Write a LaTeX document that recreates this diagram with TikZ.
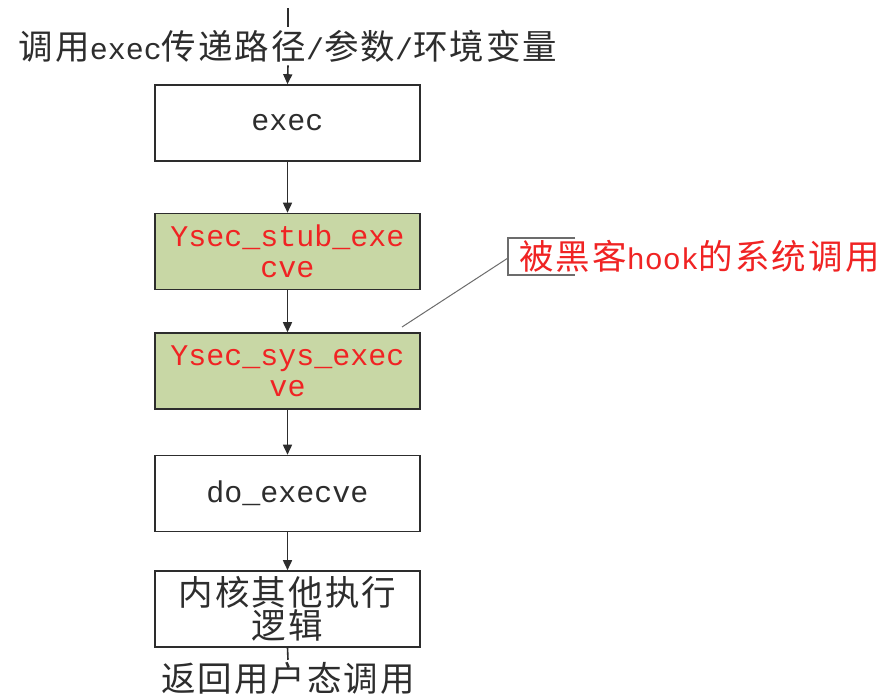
\documentclass[tikz,border=0pt]{standalone}
\usepackage{fontspec}
\setmainfont{Liberation Mono}
\newfontfamily\cjk[Scale=1.15,LetterSpace=6]{Noto Sans CJK SC}
\usetikzlibrary{arrows.meta}
\definecolor{boxgreen}{RGB}{200,215,165}
\definecolor{hookred}{RGB}{240,35,35}
\definecolor{ink}{RGB}{45,45,45}
\begin{document}
\begin{tikzpicture}[x=1pt,y=-1pt,
  flowbox/.style={draw=ink, line width=1.6pt, minimum width=265pt, minimum height=76pt, inner sep=0pt, align=center, text=ink, font=\fontsize{30}{31}\selectfont},
  hookbox/.style={flowbox, fill=boxgreen, text=hookred},
  flow/.style={draw=ink, line width=1.6pt, -{Triangle[length=10pt,width=9pt]}},
  plain/.style={draw=ink, line width=1.6pt},
  lbl/.style={text=ink, font=\fontsize{30}{31}\selectfont, inner sep=3pt}]
\path[use as bounding box] (0,0) rectangle (893,697);
\fill[white] (0,0) rectangle (893,697);

\coordinate (top) at (288,8);
\node[lbl] (title) at (288,46) {{\cjk 调用}exec{\cjk 传递路径}/{\cjk 参数}/{\cjk 环境变量}};
\node[flowbox] (exec) at (287.5,123) {exec};
\node[hookbox] (stub) at (287.5,251.5) {Ysec\_stub\_exe\\cve};
\node[hookbox] (sys) at (287.5,371) {Ysec\_sys\_exec\\ve};
\node[flowbox] (do) at (287.5,493.5) {do\_execve};
\node[flowbox] (kern) at (287.5,609) {{\cjk 内核其他执行}\\{\cjk 逻辑}};
\node[lbl, inner sep=2pt] (ret) at (288,678) {\cjk 返回用户态调用};

\draw[plain] (top) -- (title.north);
\draw[flow] (title.south) -- (exec.north);
\draw[flow] (exec.south) -- (stub.north);
\draw[flow] (stub.south) -- (sys.north);
\draw[flow] (sys.south) -- (do.north);
\draw[flow] (do.south) -- (kern.north);
\draw[plain] (kern.south) -- (ret.north);

% callout
\node[anchor=west, inner sep=0pt, text=hookred, font=\fontsize{30}{31}\selectfont] (hook) at (519,256) {{\cjk 被黑客}hook{\cjk 的系统调用}};
\coordinate (cbt) at (575,238);
\coordinate (cbb) at (575,275);
\coordinate (cl) at (508,258);
\coordinate (lt) at (402,327);
\draw[draw=ink!70, line width=1.6pt] (cbt) -| (cl) |- (cbb);
\draw[draw=ink!70, line width=1pt] (cl) -- (lt);
\end{tikzpicture}
\end{document}
